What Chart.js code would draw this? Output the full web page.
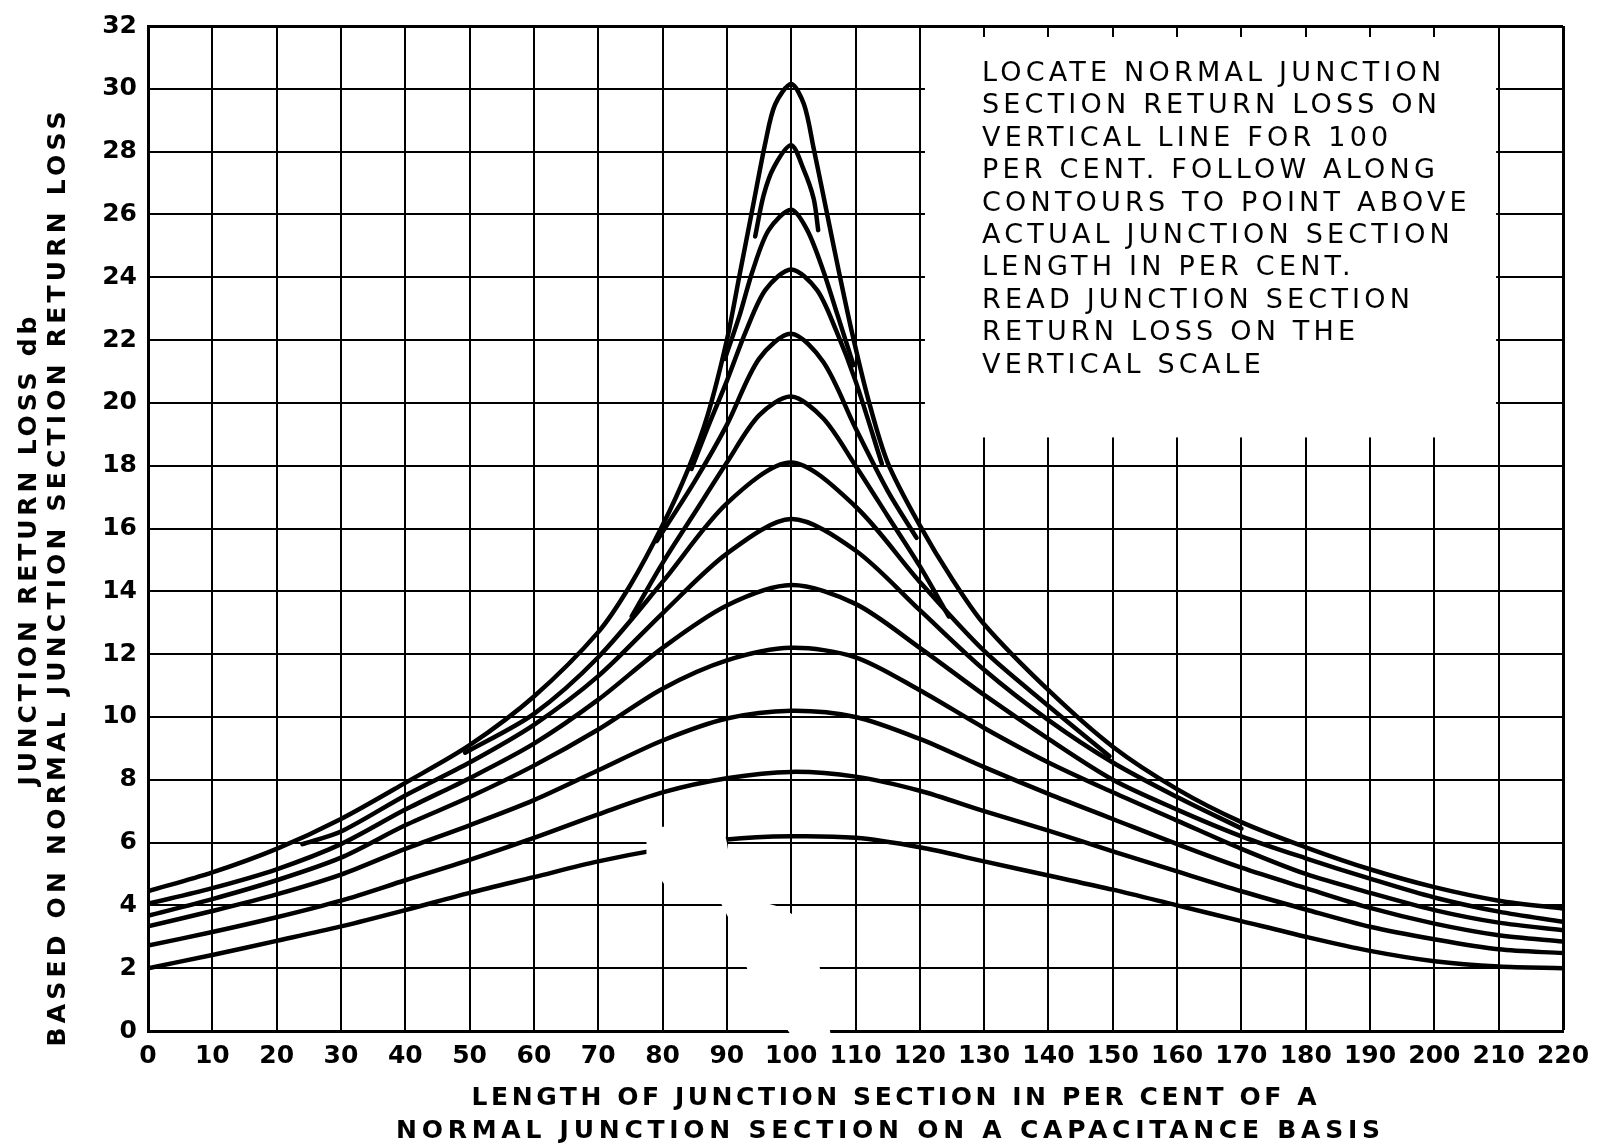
<!DOCTYPE html>
<html>
<head>
<meta charset="utf-8">
<script src="https://cdn.jsdelivr.net/npm/chart.js@4.4.1/dist/chart.umd.min.js"></script>
<style>
  html, body { margin: 0; padding: 0; background: #fff; }
</style>
</head>
<body>
<canvas id="lossChart" width="1601" height="1148"></canvas>
<script>
// junction return loss contours
// x = length of junction section (per cent), y = return loss (db)
const xFull = [0, 10, 20, 30, 40, 50, 60, 70, 80, 90, 100, 110, 120, 130, 140, 150, 160, 170, 180, 190, 200, 210, 220];
const rl6  = [2.0, 2.42, 2.87, 3.33, 3.85, 4.4, 4.9, 5.4, 5.8, 6.1, 6.2, 6.15, 5.85, 5.4, 4.95, 4.5, 4.0, 3.5, 3.0, 2.55, 2.22, 2.05, 2.0];
const rl8  = [2.72, 3.15, 3.62, 4.15, 4.8, 5.45, 6.15, 6.9, 7.6, 8.05, 8.25, 8.1, 7.65, 7.0, 6.38, 5.72, 5.08, 4.45, 3.87, 3.32, 2.92, 2.6, 2.48];
const rl10 = [3.33, 3.82, 4.35, 4.98, 5.8, 6.55, 7.35, 8.3, 9.25, 9.95, 10.2, 10.0, 9.3, 8.4, 7.55, 6.75, 5.95, 5.2, 4.55, 3.92, 3.42, 3.05, 2.85];
const rl12 = [3.67, 4.2, 4.8, 5.52, 6.55, 7.45, 8.45, 9.6, 10.9, 11.8, 12.2, 11.9, 10.85, 9.65, 8.55, 7.6, 6.7, 5.8, 5.0, 4.4, 3.85, 3.45, 3.21];
const rl14 = [4.05, 4.55, 5.15, 5.95, 7.05, 8.05, 9.15, 10.55, 12.2, 13.55, 14.2, 13.6, 12.2, 10.7, 9.3, 8.0, 7.05, 6.2, 5.5, 4.85, 4.25, 3.8, 3.48];

// shorter contours that run into the outer curve
const x16  = [24, 30, 40, 50, 60, 70, 80, 90, 100, 110, 120, 130, 140, 150, 160, 170];
const rl16 = [5.95, 6.35, 7.5, 8.55, 9.75, 11.3, 13.3, 15.2, 16.3, 15.3, 13.4, 11.5, 9.9, 8.55, 7.45, 6.45];
const x18  = [49.3, 60, 70, 80, 90, 100, 110, 120, 130, 140, 149.5];
const rl18 = [8.86, 10.1, 11.9, 14.3, 16.8, 18.1, 16.7, 14.3, 12.1, 10.35, 8.75];
const x20  = [75.2, 80, 85, 90, 95, 100, 105, 110, 115, 120, 124.5];
const rl20 = [13.2, 14.9, 16.5, 18.1, 19.6, 20.2, 19.5, 18.0, 16.4, 14.8, 13.2];
const x22  = [79.1, 85, 90, 95, 100, 105, 110, 115, 119.5];
const rl22 = [15.6, 17.5, 19.3, 21.4, 22.2, 21.3, 19.2, 17.2, 15.7];
const x24  = [84.5, 87, 90, 93, 96, 100, 104, 107, 110, 114.1];
const rl24 = [17.9, 19.2, 20.7, 22.3, 23.6, 24.25, 23.6, 22.3, 20.7, 18.06];
const x26  = [89.7, 92, 94, 96.5, 100, 102.5, 105, 107.2, 109.7];
const rl26 = [21.4, 22.8, 24.2, 25.5, 26.15, 25.5, 24.2, 22.8, 21.2];
const x28  = [94.4, 95.7, 97.3, 100, 101.9, 103.5, 104.2];
const rl28 = [25.3, 26.6, 27.5, 28.2, 27.45, 26.5, 25.5];
const x30  = [0, 10, 20, 30, 40, 50, 60, 70, 75, 80, 84, 87, 90, 92, 94, 96, 97.5, 100, 102, 103.5, 105.5, 107.5, 109.5, 112, 115, 120, 125, 130, 140, 150, 160, 170, 180, 190, 200, 210, 220];
const rl30 = [4.45, 5.05, 5.8, 6.75, 7.9, 9.1, 10.65, 12.7, 14.2, 16.1, 17.9, 19.6, 22.0, 24.1, 26.2, 28.3, 29.5, 30.15, 29.5, 28.1, 26.1, 24.1, 22.2, 20.1, 18.1, 16.1, 14.4, 12.95, 10.85, 9.05, 7.7, 6.65, 5.85, 5.15, 4.58, 4.15, 3.9];

const noteLines = [
  'LOCATE NORMAL JUNCTION',
  'SECTION RETURN LOSS ON',
  'VERTICAL LINE FOR 100',
  'PER CENT. FOLLOW ALONG',
  'CONTOURS TO POINT ABOVE',
  'ACTUAL JUNCTION SECTION',
  'LENGTH IN PER CENT.',
  'READ JUNCTION SECTION',
  'RETURN LOSS ON THE',
  'VERTICAL SCALE'
];
const yTitle = ['JUNCTION RETURN LOSS db', 'BASED ON NORMAL JUNCTION SECTION RETURN LOSS'];
const xTitle = ['LENGTH OF JUNCTION SECTION IN PER CENT OF A', 'NORMAL JUNCTION SECTION ON A CAPACITANCE BASIS'];

const FONT = '"DejaVu Sans", sans-serif';

const pts = (xs, ys) => xs.map((x, i) => ({ x: x, y: ys[i] }));
const curve = (xs, ys) => ({
  data: pts(xs, ys),
  borderColor: '#000',
  borderWidth: 4.5,
  borderCapStyle: 'round',
  borderJoinStyle: 'round',
  pointRadius: 0,
  fill: false,
  tension: 0.3
});

// spread letters so a line fills a given width (hand lettering is wide)
function spacedText(ctx, text, cx, cy, width) {
  ctx.letterSpacing = '0px';
  const w = ctx.measureText(text).width;
  ctx.letterSpacing = ((width - w) / (text.length - 1)) + 'px';
  ctx.textAlign = 'left';
  ctx.fillText(text, cx - width / 2, cy);
  ctx.letterSpacing = '0px';
}

// white panel for the instructions, painted over the grid
const notePanel = {
  id: 'notePanel',
  beforeDatasetsDraw(chart) {
    const { ctx, scales: { x, y } } = chart;
    const l = x.getPixelForValue(120.8), r = x.getPixelForValue(209.6);
    const t = y.getPixelForValue(31.65), b = y.getPixelForValue(18.9);
    ctx.save();
    ctx.fillStyle = '#fff';
    ctx.fillRect(l, t, r - l, b - t);
    ctx.restore();
  },
  afterDraw(chart) {
    const ctx = chart.ctx;
    ctx.save();
    ctx.fillStyle = '#000';
    ctx.font = '27px ' + FONT;
    ctx.textBaseline = 'middle';
    ctx.textAlign = 'left';
    ctx.letterSpacing = '4.2px';
    noteLines.forEach((s, i) => ctx.fillText(s, 982, 74 + i * 32.4));
    ctx.restore();
  }
};

// the white-out patch near the bottom middle of the original sheet
const whiteOut = {
  id: 'whiteOut',
  afterDatasetsDraw(chart) {
    const { ctx, scales: { x, y } } = chart;
    const blob = [[77.5, 6.5], [89.4, 6.5], [90.0, 6.0], [91.3, 4.35], [98.3, 3.95], [100.3, 3.7],
                  [104.3, 2.2], [106.2, -0.2], [100.2, -0.2], [93.3, 1.9], [90.5, 3.5], [88, 4.5],
                  [80.5, 4.6], [77.5, 5.5]];
    ctx.save();
    ctx.fillStyle = '#fff';
    ctx.beginPath();
    blob.forEach(([bx, by], i) => {
      const px = x.getPixelForValue(bx), py = y.getPixelForValue(by);
      if (i === 0) ctx.moveTo(px, py); else ctx.lineTo(px, py);
    });
    ctx.closePath();
    ctx.fill();
    ctx.restore();
  }
};

const axisTitles = {
  id: 'axisTitles',
  afterDraw(chart) {
    const ctx = chart.ctx;
    ctx.save();
    ctx.fillStyle = '#000';
    ctx.font = 'bold 25px ' + FONT;
    ctx.textBaseline = 'middle';
    spacedText(ctx, xTitle[0], 894, 1098, 845);
    spacedText(ctx, xTitle[1], 888, 1131, 984);
    ctx.translate(29, 551);
    ctx.rotate(-Math.PI / 2);
    spacedText(ctx, yTitle[0], 0, 0, 469);
    ctx.rotate(Math.PI / 2);
    ctx.translate(29, 28);
    ctx.rotate(-Math.PI / 2);
    spacedText(ctx, yTitle[1], 0, 0, 935);
    ctx.restore();
  }
};

const ctx = document.getElementById('lossChart').getContext('2d');

const lossChart = new Chart(ctx, {
  type: 'line',
  data: {
    datasets: [
      curve(xFull, rl6), curve(xFull, rl8), curve(xFull, rl10), curve(xFull, rl12), curve(xFull, rl14),
      curve(x16, rl16), curve(x18, rl18), curve(x20, rl20), curve(x22, rl22),
      curve(x24, rl24), curve(x26, rl26), curve(x28, rl28), curve(x30, rl30)
    ]
  },
  options: {
    responsive: false,
    animation: false,
    devicePixelRatio: 1,
    layout: { padding: { top: 19, right: 38, left: 0, bottom: 0 } },
    plugins: {
      legend: { display: false },
      tooltip: { enabled: false }
    },
    scales: {
      x: {
        type: 'linear',
        min: 0,
        max: 220,
        afterFit: s => { s.height = 117; },
        ticks: { stepSize: 10, padding: 10, color: '#000', font: { family: FONT, size: 25, weight: 'bold' } },
        grid: { color: '#000', drawTicks: false, lineWidth: c => (c.tick && c.tick.value === 220 ? 3 : 2) },
        border: { color: '#000', width: 3 }
      },
      y: {
        type: 'linear',
        min: 0,
        max: 32,
        afterFit: s => { s.width = 148; },
        ticks: { stepSize: 2, padding: 11, color: '#000', font: { family: FONT, size: 25, weight: 'bold' } },
        grid: { color: '#000', drawTicks: false, lineWidth: c => (c.tick && c.tick.value === 32 ? 3 : 2) },
        border: { color: '#000', width: 3 }
      }
    }
  },
  plugins: [notePanel, whiteOut, axisTitles]
});
</script>
</body>
</html>
